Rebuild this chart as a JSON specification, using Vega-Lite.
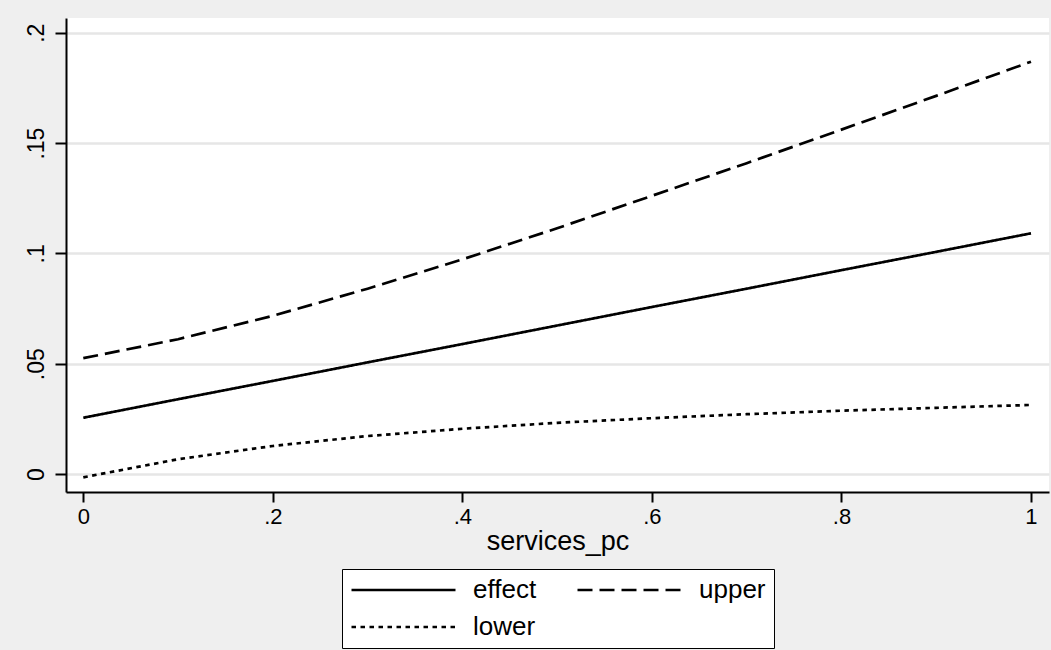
{
  "$schema": "https://vega.github.io/schema/vega-lite/v6.json",
  "width": 983,
  "height": 474,
  "autosize": {"type": "none"},
  "padding": {"left": 66, "top": 18, "right": 2, "bottom": 158},
  "background": "#efefef",
  "config": {
    "view": {"fill": "white", "stroke": null},
    "font": "Liberation Sans"
  },
  "data": {
    "values": [
      {"services_pc": 0.0, "series": "effect", "value": 0.0255},
      {"services_pc": 0.1, "series": "effect", "value": 0.0339},
      {"services_pc": 0.2, "series": "effect", "value": 0.0422},
      {"services_pc": 0.3, "series": "effect", "value": 0.0506},
      {"services_pc": 0.4, "series": "effect", "value": 0.0589},
      {"services_pc": 0.5, "series": "effect", "value": 0.0673},
      {"services_pc": 0.6, "series": "effect", "value": 0.0757},
      {"services_pc": 0.7, "series": "effect", "value": 0.0840},
      {"services_pc": 0.8, "series": "effect", "value": 0.0924},
      {"services_pc": 0.9, "series": "effect", "value": 0.1007},
      {"services_pc": 1.0, "series": "effect", "value": 0.1091},
      {"services_pc": 0.0, "series": "upper", "value": 0.0525},
      {"services_pc": 0.1, "series": "upper", "value": 0.0611},
      {"services_pc": 0.2, "series": "upper", "value": 0.0717},
      {"services_pc": 0.3, "series": "upper", "value": 0.0840},
      {"services_pc": 0.4, "series": "upper", "value": 0.0973},
      {"services_pc": 0.5, "series": "upper", "value": 0.1114},
      {"services_pc": 0.6, "series": "upper", "value": 0.1261},
      {"services_pc": 0.7, "series": "upper", "value": 0.1409},
      {"services_pc": 0.8, "series": "upper", "value": 0.1561},
      {"services_pc": 0.9, "series": "upper", "value": 0.1714},
      {"services_pc": 1.0, "series": "upper", "value": 0.1869},
      {"services_pc": 0.0, "series": "lower", "value": -0.0015},
      {"services_pc": 0.1, "series": "lower", "value": 0.0067},
      {"services_pc": 0.2, "series": "lower", "value": 0.0127},
      {"services_pc": 0.3, "series": "lower", "value": 0.0172},
      {"services_pc": 0.4, "series": "lower", "value": 0.0205},
      {"services_pc": 0.5, "series": "lower", "value": 0.0232},
      {"services_pc": 0.6, "series": "lower", "value": 0.0253},
      {"services_pc": 0.7, "series": "lower", "value": 0.0271},
      {"services_pc": 0.8, "series": "lower", "value": 0.0287},
      {"services_pc": 0.9, "series": "lower", "value": 0.0300},
      {"services_pc": 1.0, "series": "lower", "value": 0.0313}
    ]
  },
  "mark": {"type": "line", "strokeWidth": 2.7, "color": "black"},
  "encoding": {
    "x": {
      "field": "services_pc",
      "type": "quantitative",
      "scale": {"domain": [-0.01825, 1.019], "nice": false, "zero": false},
      "axis": {
        "title": "services_pc",
        "values": [0, 0.2, 0.4, 0.6, 0.8, 1],
        "labelExpr": "datum.value == 0 ? '0' : datum.value == 1 ? '1' : replace(format(datum.value, '~g'), '0.', '.')",
        "grid": false,
        "domainColor": "black",
        "domainWidth": 2,
        "tickColor": "black",
        "tickWidth": 2,
        "tickSize": 10,
        "labelFontSize": 22,
        "labelColor": "black",
        "labelPadding": 4,
        "labelFlush": false,
        "titleFontSize": 27,
        "titleFontWeight": "normal",
        "titleColor": "black",
        "titlePadding": 1
      }
    },
    "y": {
      "field": "value",
      "type": "quantitative",
      "scale": {"domain": [-0.00816, 0.2067], "nice": false, "zero": false},
      "axis": {
        "title": null,
        "values": [0, 0.05, 0.1, 0.15, 0.2],
        "labelExpr": "datum.value == 0 ? '0' : replace(format(datum.value, '~g'), '0.', '.')",
        "grid": true,
        "gridColor": "#e6e6e6",
        "gridWidth": 2.5,
        "domainColor": "black",
        "domainWidth": 2,
        "tickColor": "black",
        "tickWidth": 2,
        "tickSize": 11,
        "labelAngle": -90,
        "labelAlign": "center",
        "labelBaseline": "alphabetic",
        "labelFontSize": 23,
        "labelColor": "black",
        "labelPadding": 12,
        "labelFlush": false
      }
    },
    "strokeDash": {
      "field": "series",
      "type": "nominal",
      "scale": {"domain": ["effect", "upper", "lower"], "range": [[1, 0], [15, 7], [4.5, 4.5]]},
      "legend": {
        "title": null,
        "orient": "none",
        "legendX": 276,
        "legendY": 551,
        "columns": 2,
        "direction": "horizontal",
        "symbolType": "stroke",
        "symbolSize": 10816,
        "symbolStrokeWidth": 2.7,
        "symbolStrokeColor": "black",
        "labelFontSize": 26,
        "labelColor": "black",
        "labelOffset": 16,
        "columnPadding": 39,
        "rowPadding": 11,
        "clipHeight": 26,
        "padding": 8,
        "fillColor": "white",
        "strokeColor": "black",
        "cornerRadius": 0
      }
    }
  }
}
